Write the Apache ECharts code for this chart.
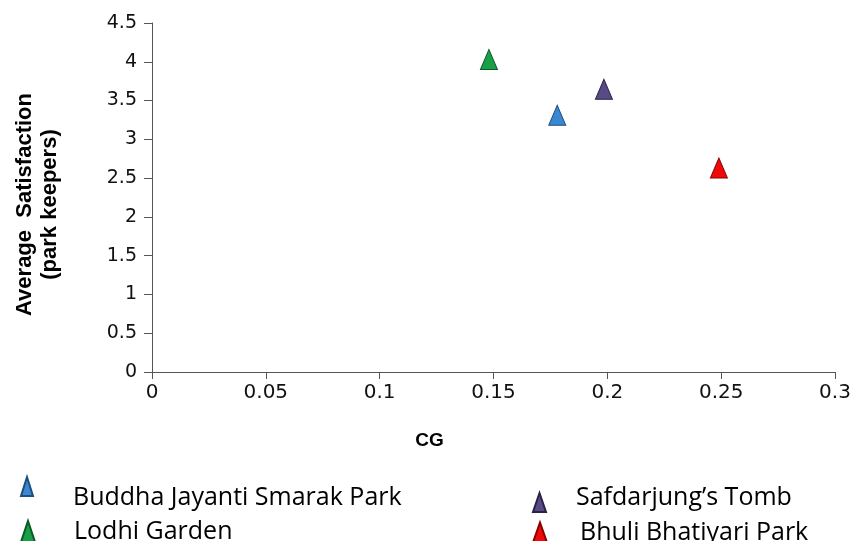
<!DOCTYPE html>
<html>
<head>
<meta charset="utf-8">
<script src="https://cdn.jsdelivr.net/npm/echarts@6/dist/echarts.min.js"></script>
<style>
html,body{margin:0;padding:0;background:#fff;}
#chart{width:853px;height:541px;}
</style>
</head>
<body>
<div id="chart"></div>
<script>
const parks = ['Buddha Jayanti Smarak Park', 'Lodhi Garden', 'Safdarjung\u2019s Tomb', 'Bhuli Bhatiyari Park'];
const cgValues = [0.178, 0.148, 0.1985, 0.249];
const satisfaction = [3.31, 4.03, 3.645, 2.63];
const parkColors = ['#3A88D2', '#17A048', '#574A86', '#EE0A0A'];
const parkBorders = ['#1F4F7E', '#0C5A26', '#2A2245', '#8A0000'];
const xAxisTitle = 'CG';
const yAxisTitle = 'Average  Satisfaction\n(park keepers)';

const chart = echarts.init(document.getElementById('chart'));

const legendLayouts = [
  {left: 20, top: 476, itemWidth: 12, itemHeight: 41, icon: 'path://M0,41M6,0L12,19L0,19Z', pad: 35},
  {left: 20, top: 519, itemWidth: 14, itemHeight: 21, icon: 'path://M7,0L14,21L0,21Z', pad: 34},
  {left: 532, top: 482, itemWidth: 13, itemHeight: 29, icon: 'path://M0,0M6.5,10L13,29L0,29Z', pad: 25},
  {left: 532, top: 520, itemWidth: 14, itemHeight: 20, icon: 'path://M7,0L14,20L0,20Z', pad: 28}
];

const legends = parks.map((name, i) => ({
  data: [{name: name, icon: legendLayouts[i].icon}],
  left: legendLayouts[i].left,
  top: legendLayouts[i].top,
  padding: 0,
  itemWidth: legendLayouts[i].itemWidth,
  itemHeight: legendLayouts[i].itemHeight,
  selectedMode: false,
  textStyle: {
    fontFamily: 'Open Sans',
    fontSize: 25,
    color: '#000',
    lineHeight: 20,
    padding: [0, 0, 0, legendLayouts[i].pad]
  }
}));

const series = parks.map((name, i) => ({
  name: name,
  type: 'scatter',
  symbol: 'triangle',
  symbolSize: [17, 20],
  itemStyle: {color: parkColors[i], borderColor: parkBorders[i], borderWidth: 1, opacity: 1},
  data: [[cgValues[i], satisfaction[i]]]
}));

chart.setOption({
  animation: false,
  backgroundColor: '#fff',
  grid: {left: 152, right: 18, top: 23, bottom: 169, containLabel: false, outerBoundsMode: 'none'},
  legend: legends,
  xAxis: {
    type: 'value',
    min: 0, max: 0.3, interval: 0.05,
    name: xAxisTitle,
    nameLocation: 'middle',
    nameGap: 59,
    nameTextStyle: {fontFamily: 'Liberation Sans', fontWeight: 'bold', fontSize: 19, color: '#000', padding: [0, 128, 0, 0]},
    axisLine: {show: true, lineStyle: {color: '#555', width: 1}},
    axisTick: {show: true, inside: false, length: 7, lineStyle: {color: '#555'}},
    axisLabel: {fontFamily: 'DejaVu Sans', fontSize: 20, color: '#111', margin: 11},
    splitLine: {show: false}
  },
  yAxis: {
    type: 'value',
    min: 0, max: 4.5, interval: 0.5,
    name: yAxisTitle,
    nameLocation: 'middle',
    nameGap: 90,
    nameTextStyle: {fontFamily: 'Liberation Sans', fontWeight: 'bold', fontSize: 22, color: '#000', lineHeight: 25, align: 'center', padding: [0, 14, 0, 0]},
    axisLine: {show: true, lineStyle: {color: '#555', width: 1}},
    axisTick: {show: true, inside: false, length: 8, lineStyle: {color: '#555'}},
    axisLabel: {fontFamily: 'DejaVu Sans', fontSize: 19, color: '#111', margin: 15},
    splitLine: {show: false}
  },
  series: series
});
</script>
</body>
</html>
